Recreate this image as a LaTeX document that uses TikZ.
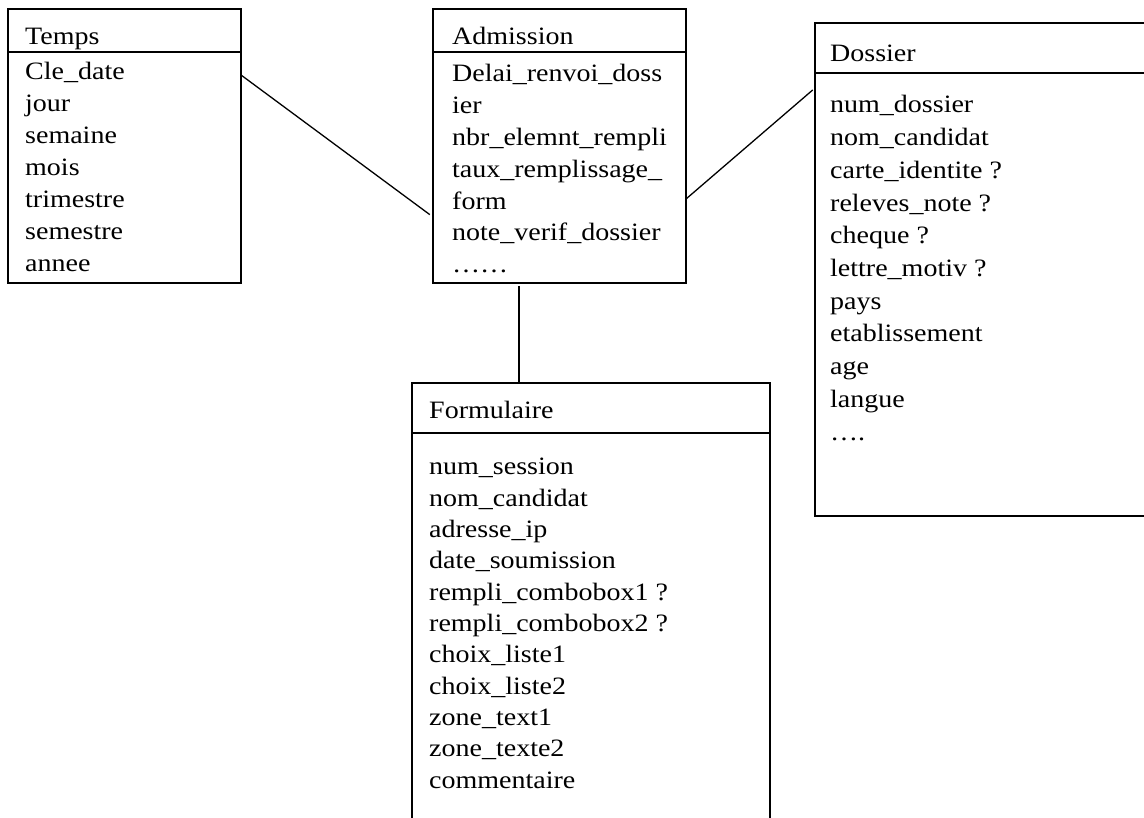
\documentclass[tikz,border=0pt]{standalone}
\usepackage{fontspec}
\setmainfont{Liberation Serif}[FakeStretch=1.12]
\usetikzlibrary{calc}

\tikzset{
  table/.style={draw, line width=2pt, inner sep=0pt, outer sep=0pt, anchor=north west},
  rule/.style={line width=2pt},
  link/.style={line width=1.3pt},
  item/.style={anchor=base west, inner sep=0pt, font=\fontsize{25}{30}\selectfont}
}

\begin{document}
\begin{tikzpicture}[x=1pt, y=-1pt]
  \clip (0,0) rectangle (1144,818);
  \fill[white] (0,0) rectangle (1144,818);

  % the four tables
  \node[table, minimum width=233pt, minimum height=274pt] (temps) at (8,9) {};
  \node[table, minimum width=253pt, minimum height=274pt] (adm) at (433,9) {};
  \node[table, minimum width=345pt, minimum height=493pt] (dos) at (815,23) {};
  \node[table, minimum width=358pt, minimum height=460pt] (form) at (412,383) {};

  \draw[rule] ($(temps.north west)+(0,43)$) -- ($(temps.north east)+(0,43)$);
  \draw[rule] ($(adm.north west)+(0,43)$) -- ($(adm.north east)+(0,43)$);
  \draw[rule] ($(dos.north west)+(0,50)$) -- ($(dos.north east)+(0,50)$);
  \draw[rule] ($(form.north west)+(0,50)$) -- ($(form.north east)+(0,50)$);

  % titles
  \node[item] (temps-t) at (25,45) {Temps};
  \node[item] (adm-t) at (452,45) {Admission};
  \node[item] (dos-t) at (830,62) {Dossier};
  \node[item] (form-t) at (429,419) {Formulaire};

  % fields
  \foreach \t [count=\i from 0] in {Cle\_date, jour, semaine, mois, trimestre, semestre, annee}
    \node[item] (temps-\i) at (25,80+32*\i) {\t};
  \foreach \t [count=\i from 0] in {Delai\_renvoi\_doss, ier, nbr\_elemnt\_rempli, taux\_remplissage\_, form, note\_verif\_dossier, ……}
    \node[item] (adm-\i) at (452,82+31.8*\i) {\t};
  \foreach \t [count=\i from 0] in {num\_dossier, nom\_candidat, carte\_identite ?, releves\_note ?, cheque ?, lettre\_motiv ?, pays, etablissement, age, langue, ….}
    \node[item] (dos-\i) at (830,113+32.7*\i) {\t};
  \foreach \t [count=\i from 0] in {num\_session, nom\_candidat, adresse\_ip, date\_soumission, rempli\_combobox1 ?, rempli\_combobox2 ?, choix\_liste1, choix\_liste2, zone\_text1, zone\_texte2, commentaire}
    \node[item] (form-\i) at (429,475+31.3*\i) {\t};

  % links
  \draw[link, shorten >=4pt] ($(temps.north east)+(0,66)$) -- ($(adm.north west)+(0,208)$);
  \draw[link, shorten >=3pt] ($(adm.north east)+(0,190)$) -- ($(dos.north west)+(0,65)$);
  \draw[link, shorten <=3pt] ($(adm.south west)+(86,0)$) -- ($(form.north west)+(107,0)$);
\end{tikzpicture}
\end{document}
